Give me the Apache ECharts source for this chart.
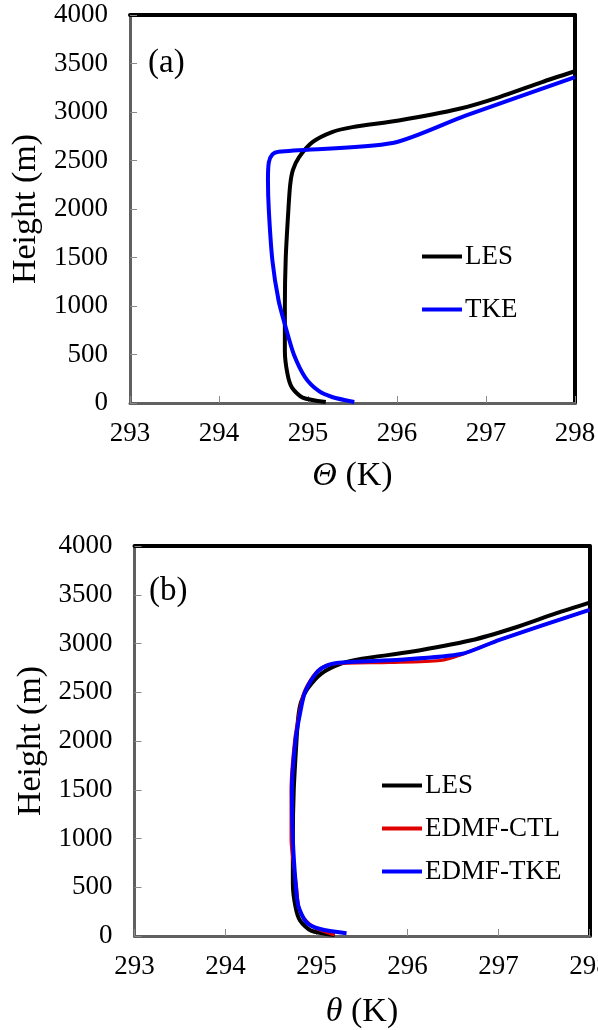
<!DOCTYPE html>
<html>
<head>
<meta charset="utf-8">
<script src="https://cdn.jsdelivr.net/npm/echarts@6/dist/echarts.min.js"></script>
<style>
html,body{margin:0;padding:0;background:#fff;}
#chart{width:598px;height:1030px;}
</style>
</head>
<body>
<div id="chart"></div>
<script>
// ---- Data ----
var xTicks = [293, 294, 295, 296, 297, 298];
var yTicks = [0, 500, 1000, 1500, 2000, 2500, 3000, 3500, 4000];

var lesTheta  = [295.20, 294.94, 294.82, 294.77, 294.74, 294.74, 294.75, 294.78, 294.80, 294.83, 294.90, 295.05, 295.27, 295.50, 296.02, 296.70, 297.15, 297.63, 298.00];
var lesHeight = [10, 55, 158, 297, 537, 1000, 1500, 2000, 2250, 2400, 2534, 2689, 2793, 2844, 2912, 3033, 3154, 3309, 3420];

var tkeTheta  = [295.52, 295.27, 295.12, 294.97, 294.84, 294.75, 294.67, 294.60, 294.56, 294.55, 294.56, 294.60, 294.67, 295.95, 296.77, 298.00];
var tkeHeight = [10, 62, 124, 262, 503, 779, 1054, 1468, 1985, 2300, 2480, 2563, 2590, 2680, 2963, 3359];

var ctlTheta  = [295.20, 294.97, 294.82, 294.78, 294.72, 294.72, 294.76, 294.81, 294.86, 294.96, 295.05, 295.18, 295.80, 296.36, 296.59, 297.01, 298.00];
var ctlHeight = [10, 89, 242, 515, 992, 1504, 2015, 2289, 2493, 2663, 2749, 2790, 2805, 2826, 2885, 3038, 3345];

var edTkeTheta  = [295.33, 295.04, 294.89, 294.80, 294.77, 294.74, 294.73, 294.77, 294.82, 294.87, 294.97, 295.06, 295.22, 295.92, 296.59, 297.01, 298.00];
var edTkeHeight = [28, 72, 140, 310, 549, 992, 1504, 2015, 2289, 2493, 2663, 2749, 2800, 2834, 2892, 3038, 3345];

function pairs(xs, ys) { return xs.map(function (x, i) { return [x, ys[i]]; }); }

var FONT = '"Liberation Serif", "Times New Roman", serif';
var chart = echarts.init(document.getElementById('chart'), null, {renderer: 'canvas'});

function plain(v) { return String(v); }

function mainX(gridIndex, nameRich, gap) {
  return {
    type: 'value', gridIndex: gridIndex, position: 'bottom',
    min: xTicks[0], max: xTicks[xTicks.length - 1], interval: 1,
    axisLine: {show: true, onZero: false, lineStyle: {color: '#606060', width: 3}},
    axisTick: {show: true, inside: true, length: 7, lineStyle: {color: '#8a8a8a', width: 1}},
    axisLabel: {fontFamily: FONT, fontSize: 27, color: '#000', margin: 17, formatter: plain},
    splitLine: {show: false},
    name: nameRich, nameLocation: 'middle', nameGap: gap,
    nameTextStyle: {fontFamily: FONT, fontSize: 34, color: '#000',
      rich: {i: {fontFamily: FONT, fontStyle: 'italic', fontSize: 34, color: '#000'}}}
  };
}
function borderX(gridIndex) {
  return {
    type: 'value', gridIndex: gridIndex, position: 'top',
    min: xTicks[0], max: xTicks[xTicks.length - 1], interval: 1,
    axisLine: {show: true, onZero: false, lineStyle: {color: '#000', width: 4}},
    axisTick: {show: false}, axisLabel: {show: false}, splitLine: {show: false}
  };
}
function mainY(gridIndex, gap) {
  return {
    type: 'value', gridIndex: gridIndex, position: 'left',
    min: yTicks[0], max: yTicks[yTicks.length - 1], interval: 500,
    axisLine: {show: true, onZero: false, lineStyle: {color: '#606060', width: 3}},
    axisTick: {show: true, inside: true, length: 7, lineStyle: {color: '#8a8a8a', width: 1}},
    axisLabel: {fontFamily: FONT, fontSize: 27, color: '#000', margin: 22, formatter: plain},
    splitLine: {show: false},
    name: 'Height (m)', nameLocation: 'middle', nameGap: gap,
    nameTextStyle: {fontFamily: FONT, fontSize: 34, color: '#000'}
  };
}
function borderY(gridIndex) {
  return {
    type: 'value', gridIndex: gridIndex, position: 'right',
    min: yTicks[0], max: yTicks[yTicks.length - 1], interval: 500,
    axisLine: {show: true, onZero: false, lineStyle: {color: '#000', width: 4}},
    axisTick: {show: false}, axisLabel: {show: false}, splitLine: {show: false}
  };
}
function line(name, data, xi, yi, color, width, z) {
  return {
    type: 'line', name: name, data: data, xAxisIndex: xi, yAxisIndex: yi,
    showSymbol: false, symbol: 'none', smooth: 0.25, z: z,
    lineStyle: {color: color, width: width},
    itemStyle: {color: color}
  };
}

var option = {
  animation: false,
  backgroundColor: '#fff',
  grid: [
    {left: 130, top: 15, width: 445, height: 388, outerBoundsMode: 'none', containLabel: false},
    {left: 134.5, top: 546, width: 455, height: 390, outerBoundsMode: 'none', containLabel: false}
  ],
  xAxis: [
    mainX(0, '{i|Θ} (K)', 56),
    borderX(0),
    mainX(1, '{i|θ} (K)', 59),
    borderX(1)
  ],
  yAxis: [
    mainY(0, 83),
    borderY(0),
    mainY(1, 86),
    borderY(1)
  ],
  legend: [
    {
      data: ['LES', 'TKE'], orient: 'vertical', left: 417, top: 238,
      itemWidth: 40, itemHeight: 4, icon: 'rect', itemGap: 26,
      textStyle: {fontFamily: FONT, fontSize: 27, color: '#000', padding: [0, 0, 0, -2]}
    },
    {
      data: ['LES', 'EDMF-CTL', 'EDMF-TKE'], orient: 'vertical', left: 377, top: 767,
      itemWidth: 40, itemHeight: 4, icon: 'rect', itemGap: 16,
      textStyle: {fontFamily: FONT, fontSize: 27, color: '#000', padding: [0, 0, 0, -2]}
    }
  ],
  graphic: [
    {type: 'text', left: 148, top: 47, style: {text: '(a)', font: '33px ' + FONT, fill: '#000'}},
    {type: 'text', left: 149, top: 575, style: {text: '(b)', font: '33px ' + FONT, fill: '#000'}}
  ],
  series: [
    line('LES', pairs(lesTheta, lesHeight), 0, 0, '#000000', 4, 2),
    line('TKE', pairs(tkeTheta, tkeHeight), 0, 0, '#0000ff', 4, 3),
    line('LES', pairs(lesTheta, lesHeight), 2, 2, '#000000', 4, 2),
    line('EDMF-CTL', pairs(ctlTheta, ctlHeight), 2, 2, '#e00000', 3, 3),
    line('EDMF-TKE', pairs(edTkeTheta, edTkeHeight), 2, 2, '#0000ff', 4, 4)
  ]
};
chart.setOption(option);
</script>
</body>
</html>
